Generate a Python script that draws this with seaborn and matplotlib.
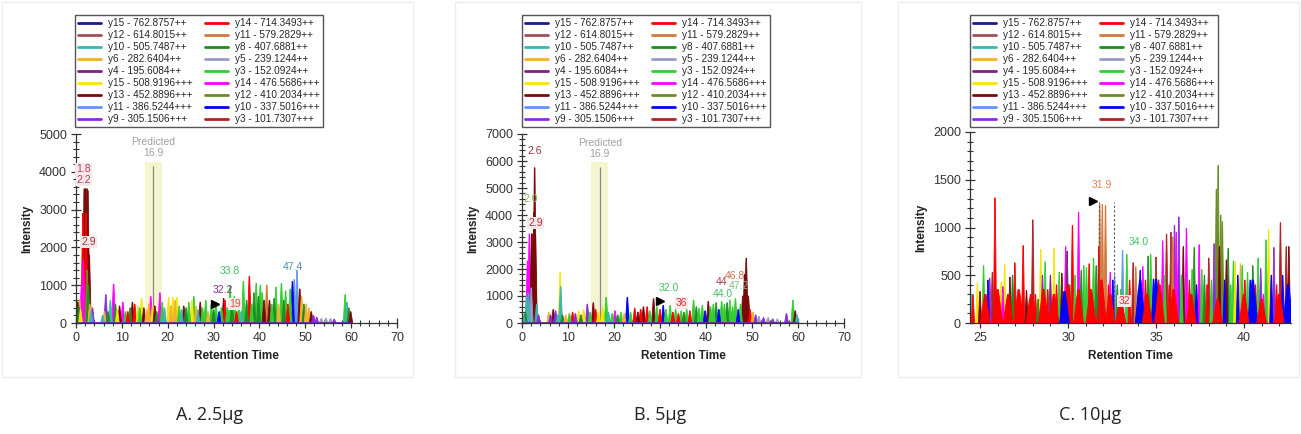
import matplotlib
matplotlib.use("Agg")
import matplotlib.pyplot as plt
import matplotlib.ticker as mticker
from matplotlib.lines import Line2D
from matplotlib.patches import Rectangle
import seaborn as sns

# ---------------------------------------------------------------------------
# Data
# ---------------------------------------------------------------------------

# legend order, column by column
ION_LABELS = [
    "y15 - 762.8757++", "y12 - 614.8015++", "y10 - 505.7487++",
    "y6 - 282.6404++", "y4 - 195.6084++", "y15 - 508.9196+++",
    "y13 - 452.8896+++", "y11 - 386.5244+++", "y9 - 305.1506+++",
    "y14 - 714.3493++", "y11 - 579.2829++", "y8 - 407.6881++",
    "y5 - 239.1244++", "y3 - 152.0924++", "y14 - 476.5686+++",
    "y12 - 410.2034+++", "y10 - 337.5016+++", "y3 - 101.7307+++",
]
ION_COLORS = [
    "#1c1c8c", "#a0505a", "#3cb4b4", "#f0b030", "#802080", "#f5e600",
    "#7a0a0a", "#6495ed", "#8a2be2", "#ff0000", "#d2783c", "#228b22",
    "#9a9ac8", "#32cd32", "#ff00ff", "#6b8e23", "#0000ff", "#b22222",
]

# (retention time, intensity, ion index)
PEAKS_A = [
    (0.2, 600, 2), (0.4, 550, 6), (0.6, 450, 11), (0.8, 620, 3), (1.0, 350, 5),
    (1.2, 1000, 14), (1.6, 1650, 14), (1.5, 2900, 9), (1.8, 3550, 6), (2.1, 3550, 6),
    (2.4, 3550, 6), (2.6, 3500, 6), (2.9, 1800, 6), (2.2, 2900, 9), (2.4, 1400, 15),
    (2.7, 1000, 11), (3.0, 500, 3), (3.3, 300, 2), (3.6, 400, 8),
    (5.8, 200, 2), (6.2, 300, 3), (6.5, 750, 8), (7.0, 300, 11), (7.5, 600, 2),
    (8.2, 1030, 14), (8.6, 500, 11), (9.0, 350, 5), (9.5, 450, 6), (10.2, 550, 14),
    (10.8, 300, 13), (11.3, 300, 9), (11.8, 400, 11), (12.3, 550, 6), (12.8, 500, 9),
    (13.5, 450, 5), (13.9, 400, 13), (14.3, 650, 5), (14.8, 400, 6), (15.4, 350, 3),
    (15.9, 500, 3), (16.3, 700, 14), (16.7, 450, 5), (17.2, 450, 6), (17.6, 300, 11),
    (18.3, 800, 14), (18.8, 550, 13), (19.3, 400, 2),
    (20.2, 680, 5), (20.7, 450, 3), (21.1, 680, 5), (21.6, 600, 3), (22.0, 680, 5),
    (22.5, 450, 13), (23.0, 350, 2), (23.5, 450, 6), (24.0, 400, 11), (24.6, 550, 13),
    (25.3, 600, 5), (25.7, 700, 13), (26.2, 450, 3), (26.6, 350, 2), (27.1, 550, 6),
    (27.6, 400, 13), (28.3, 600, 13), (28.8, 300, 3), (29.5, 500, 13), (30.0, 350, 11),
    (30.5, 550, 13), (31.2, 300, 16), (31.7, 400, 13), (32.2, 650, 6), (32.5, 600, 9),
    (33.0, 400, 13), (33.6, 970, 13), (34.0, 500, 11), (34.5, 700, 13), (35.0, 300, 9),
    (35.5, 450, 13), (36.0, 300, 2), (36.5, 1100, 13), (37.2, 600, 11), (37.8, 1230, 9),
    (38.3, 500, 13), (38.8, 800, 11), (39.3, 1050, 13), (39.8, 700, 11), (40.2, 1000, 13),
    (40.6, 800, 13), (41.0, 600, 6), (41.6, 1000, 10), (42.2, 600, 6), (42.7, 500, 13),
    (43.2, 650, 11), (43.6, 950, 13), (44.2, 500, 3), (44.8, 1050, 13), (45.3, 600, 11),
    (45.7, 850, 13), (46.2, 500, 9), (46.7, 900, 13), (47.2, 1100, 16), (47.6, 1150, 7),
    (48.2, 1400, 7), (48.8, 900, 6), (49.2, 700, 3), (49.7, 500, 11), (50.2, 500, 3),
    (50.8, 400, 3), (51.3, 300, 6), (51.8, 200, 8), (52.5, 150, 8), (53.5, 120, 12),
    (54.5, 130, 12), (55.5, 120, 12), (56.3, 100, 8), (58.7, 750, 13), (59.1, 550, 2),
    (59.5, 400, 11), (59.9, 300, 6),
]

PEAKS_B = [
    (0.3, 300, 2), (0.7, 400, 11), (1.0, 1000, 2), (1.4, 1100, 2), (1.2, 2300, 14),
    (1.6, 3300, 14), (2.0, 1300, 12), (2.1, 3300, 6), (2.4, 3300, 6), (2.6, 4100, 6),
    (2.75, 5750, 6), (2.9, 3300, 6), (3.2, 700, 2), (3.6, 300, 8),
    (5.8, 400, 3), (6.2, 300, 8), (6.8, 500, 6), (7.3, 450, 8), (7.8, 300, 2),
    (8.3, 1880, 5), (8.4, 1350, 2), (8.8, 300, 11), (9.5, 300, 3), (10.3, 350, 13),
    (11.0, 400, 9), (11.6, 350, 8), (12.3, 450, 5), (12.8, 300, 11), (13.4, 500, 5),
    (14.2, 700, 8), (14.8, 400, 13), (15.5, 750, 6), (16.0, 500, 9), (16.6, 400, 5),
    (17.5, 600, 5), (18.3, 950, 13), (18.8, 400, 2), (19.6, 350, 13),
    (20.2, 450, 14), (20.8, 300, 11), (21.5, 400, 13), (22.2, 350, 3), (22.9, 950, 16),
    (23.6, 400, 13), (24.5, 550, 9), (25.2, 400, 6), (25.8, 500, 9), (26.4, 600, 6),
    (27.2, 600, 9), (27.8, 450, 13), (28.6, 900, 6), (29.3, 600, 13), (30.0, 500, 9),
    (30.7, 650, 16), (31.3, 500, 13), (32.2, 650, 13), (32.8, 400, 9), (33.4, 500, 13),
    (34.0, 350, 9), (34.6, 450, 13), (35.2, 400, 11), (35.8, 500, 13), (36.5, 450, 9),
    (37.3, 850, 13), (37.9, 600, 11), (38.5, 550, 13), (39.2, 650, 13), (39.8, 450, 16),
    (40.5, 800, 6), (41.0, 600, 13), (41.6, 700, 13), (42.2, 750, 11), (42.8, 500, 16),
    (43.4, 800, 13), (44.0, 700, 13), (44.6, 750, 11), (45.2, 850, 13), (45.8, 600, 13),
    (46.4, 900, 13), (47.0, 500, 16), (47.5, 700, 13), (48.0, 1000, 6), (48.4, 1800, 6),
    (48.75, 2400, 6), (49.2, 1000, 6), (49.6, 500, 9), (50.2, 400, 3), (50.8, 300, 8),
    (51.5, 250, 12), (52.5, 200, 8), (53.5, 200, 12), (54.5, 150, 8), (55.5, 150, 12),
    (57.5, 350, 8), (58.9, 850, 13), (59.4, 450, 6), (59.8, 300, 2),
]

PEAKS_C = [
    (24.55, 300, 2), (24.6, 290, 9), (24.85, 420, 5), (25.0, 330, 6), (25.2, 600, 13),
    (25.35, 250, 9), (25.45, 450, 16), (25.55, 470, 8), (25.7, 530, 17), (25.85, 1310, 9),
    (26.05, 300, 9), (26.2, 430, 5), (26.3, 380, 14), (26.4, 610, 5), (26.55, 250, 9),
    (26.7, 480, 6), (26.85, 500, 11), (26.98, 630, 9), (27.15, 250, 13), (27.3, 240, 2),
    (27.45, 810, 9), (27.64, 340, 6), (27.8, 250, 13), (28.0, 1080, 17), (28.15, 300, 9),
    (28.3, 250, 11), (28.45, 770, 5), (28.55, 500, 8), (28.7, 640, 13), (28.85, 350, 9),
    (29.0, 500, 4), (29.2, 780, 5), (29.35, 400, 9), (29.5, 530, 13), (29.65, 520, 6),
    (29.8, 330, 16), (29.87, 800, 14), (29.95, 750, 4), (30.1, 400, 11), (30.25, 1020, 9),
    (30.4, 500, 13), (30.6, 1160, 14), (30.75, 550, 11), (30.9, 600, 13), (31.05, 580, 13),
    (31.2, 620, 9), (31.35, 300, 16), (31.45, 680, 13), (31.6, 600, 11), (31.75, 800, 9),
    (31.8, 1250, 10), (31.95, 1240, 10), (32.13, 1230, 10), (32.3, 400, 9), (32.4, 530, 14),
    (32.55, 450, 16), (32.65, 500, 7), (32.8, 400, 11), (33.0, 350, 13), (33.1, 760, 7),
    (33.34, 720, 13), (33.5, 450, 9), (33.7, 630, 17), (33.85, 590, 10), (34.0, 350, 16),
    (34.1, 550, 16), (34.25, 590, 14), (34.4, 450, 9), (34.55, 700, 11), (34.7, 720, 13),
    (34.85, 460, 16), (35.0, 690, 17), (35.15, 450, 9), (35.38, 860, 14), (35.5, 500, 13),
    (35.6, 930, 17), (35.75, 400, 9), (35.85, 950, 17), (35.95, 900, 10), (36.05, 1020, 8),
    (36.15, 950, 14), (36.3, 1110, 8), (36.45, 500, 13), (36.55, 800, 6), (36.73, 990, 14),
    (36.9, 450, 9), (37.05, 560, 13), (37.17, 790, 11), (37.3, 400, 16), (37.45, 820, 14),
    (37.6, 560, 13), (37.75, 500, 11), (37.9, 400, 9), (38.0, 680, 17), (38.15, 450, 13),
    (38.3, 830, 8), (38.43, 1400, 15), (38.53, 1650, 15), (38.6, 800, 6), (38.68, 1130, 15),
    (38.77, 1060, 15), (38.9, 450, 16), (39.0, 660, 6), (39.1, 780, 11), (39.25, 400, 13),
    (39.4, 650, 13), (39.5, 640, 5), (39.65, 500, 16), (39.8, 620, 3), (39.9, 600, 13),
    (40.05, 450, 9), (40.2, 530, 13), (40.35, 450, 16), (40.5, 600, 11), (40.65, 400, 9),
    (40.8, 680, 13), (40.95, 570, 8), (41.1, 300, 14), (41.25, 870, 13), (41.4, 980, 5),
    (41.55, 500, 16), (41.7, 790, 8), (41.85, 400, 9), (42.07, 1050, 17), (42.2, 500, 16),
    (42.4, 800, 17), (42.55, 800, 6),
]
# broad low background of panel C (red / blue traces)
BROAD_C = [
    (25.3, 300, 9), (26.0, 350, 9), (26.6, 300, 9), (27.2, 350, 9), (27.9, 300, 9),
    (28.6, 350, 9), (29.2, 300, 9), (30.0, 400, 9), (30.6, 350, 9), (31.3, 350, 9),
    (31.9, 450, 9), (32.4, 300, 9), (33.0, 250, 9), (34.5, 300, 9), (35.2, 400, 9),
    (36.0, 350, 9), (37.0, 300, 9), (38.5, 250, 9), (40.0, 300, 9), (41.0, 250, 9),
    (42.0, 300, 9), (29.8, 330, 16), (34.1, 450, 16), (35.0, 460, 16), (40.5, 450, 16),
    (42.5, 400, 16),
]

# peak apex labels: (rt, intensity, text, colour, boxed)
LABELS_A = [
    (1.6, 3950, "1.8", "#b04060", True), (1.75, 3650, "2.2", "#b04060", True),
    (2.7, 2020, "2.9", "#a03040", True), (33.6, 1250, "33.8", "#40c060", False),
    (32.0, 750, "32.2", "#803080", False), (34.6, 380, "19", "#c06040", True),
    (47.3, 1360, "47.4", "#5090b0", False),
]
LABELS_B = [
    (2.7, 6180, "2.6", "#a03040", False), (1.8, 4390, "2.0", "#80c060", False),
    (2.9, 3530, "2.9", "#a03040", True), (32.0, 1110, "32.0", "#40c060", False),
    (34.7, 550, "36", "#e03030", True), (43.4, 1350, "44", "#a04050", False),
    (46.3, 1570, "46.8", "#d07050", False), (47.2, 1170, "47.2", "#80c080", False),
    (43.7, 880, "44.0", "#40c060", False),
]
LABELS_C = [
    (31.9, 1390, "31.9", "#e08050", False), (34.0, 800, "34.0", "#40c060", False),
    (33.2, 175, "32", "#e03030", True),
]

PREDICTED_RT = 16.9
PREDICTED_WINDOW = (15.0, 18.8)
RUN_END = 60
MARKER_A = (30.3, 500)
MARKER_B = (30.0, 800)
MARKER_C = (31.4, 1280)
INTEGRATION_C = (31.74, 32.6)

CAPTIONS = ["A. 2.5μg", "B. 5μg", "C. 10μg"]


# ---------------------------------------------------------------------------
# Plotting
# ---------------------------------------------------------------------------

sns.set_theme(style="ticks")
plt.rcParams["font.family"] = ["Liberation Sans", "DejaVu Sans"]

W, H = 1301, 434
fig = plt.figure(figsize=(W / 100, H / 100), dpi=100)

# faint panel frames
for x0, x1 in [(2, 413), (455, 861), (898, 1299)]:
    fig.patches.append(Rectangle((x0 / W, 1 - 377 / H), (x1 - x0) / W, 377 / H - 0.005,
                                 transform=fig.transFigure, fill=False,
                                 edgecolor="#ececec", lw=1))


def make_axes(left_px, width_px, top_px):
    return fig.add_axes([left_px / W, 1 - 323 / H, width_px / W, (323 - top_px) / H])


def draw_peaks(ax, peaks, half_width):
    for rt, height, ion in sorted(peaks, key=lambda p: -p[1]):
        ax.fill([rt - half_width, rt - half_width * 0.15, rt + half_width * 0.15,
                 rt + half_width], [0, height, height, 0],
                color=ION_COLORS[ion], lw=0.6, zorder=2)


def draw_labels(ax, labels):
    for rt, y, txt, col, boxed in labels:
        bbox = dict(boxstyle="square,pad=0.1", fc="#f6e8e8", ec="none") if boxed else None
        ax.text(rt, y, txt, color=col, fontsize=7.5, ha="center", va="bottom",
                bbox=bbox, zorder=5)


def style_axes(ax, xmajor, xminor, ymajor, yminor):
    sns.despine(ax=ax)
    for s in ("left", "bottom"):
        ax.spines[s].set_color("#333333")
        ax.spines[s].set_linewidth(0.9)
    ax.xaxis.set_major_locator(mticker.MultipleLocator(xmajor))
    ax.xaxis.set_minor_locator(mticker.MultipleLocator(xminor))
    ax.yaxis.set_major_locator(mticker.MultipleLocator(ymajor))
    ax.yaxis.set_minor_locator(mticker.MultipleLocator(yminor))
    ax.tick_params(which="major", direction="inout", length=7, width=0.9,
                   color="#333333", labelsize=9, labelcolor="#333333", pad=3)
    ax.tick_params(which="minor", direction="inout", length=4, width=0.8, color="#333333")
    ax.set_xlabel("Retention Time", fontsize=8.5, fontweight="bold", color="#222222")
    ax.set_ylabel("Intensity", fontsize=8.5, fontweight="bold", color="#222222")
    ax.set_facecolor("none")


def predicted_band(ax, top):
    ax.fill_between(PREDICTED_WINDOW, 0, top, color="#f5f5d0", zorder=1, lw=0)
    ax.vlines(PREDICTED_RT, 0, top * 0.97, color="#888888", lw=0.9, zorder=1.5)
    ax.text(PREDICTED_RT, top * 1.02, "16.9", color="#a0a0a0", fontsize=7.5,
            ha="center", va="bottom")
    ax.text(PREDICTED_RT, top * 1.09, "Predicted", color="#a0a0a0", fontsize=7.5,
            ha="center", va="bottom")


handles = [Line2D([0], [0], color=c, lw=2) for c in ION_COLORS]


def add_legend(left_px):
    fig.legend(handles, ION_LABELS, ncol=2, loc="lower left",
               bbox_to_anchor=(left_px / W, 1 - 127 / H), bbox_transform=fig.transFigure,
               fontsize=7.2, frameon=True, fancybox=False, edgecolor="#555555",
               framealpha=1, handlelength=2.3, handletextpad=0.7, columnspacing=1.2,
               labelspacing=0.2, borderpad=0.3, borderaxespad=0)


# --- panel A ---
ax = make_axes(76, 321, 134)
ax.set_xlim(0, 70)
ax.set_ylim(0, 5000)
predicted_band(ax, 4270)
draw_peaks(ax, PEAKS_A, 0.42)
ax.hlines(0, 0, RUN_END, color="#6a2a9a", lw=2, zorder=3)
draw_labels(ax, LABELS_A)
ax.plot(*MARKER_A, marker=">", color="black", ms=6, zorder=6)
style_axes(ax, 10, 2, 1000, 200)
add_legend(75)

# --- panel B ---
ax = make_axes(522, 322, 134)
ax.set_xlim(0, 70)
ax.set_ylim(0, 7000)
predicted_band(ax, 5950)
draw_peaks(ax, PEAKS_B, 0.42)
ax.hlines(0, 0, RUN_END, color="#6a2a9a", lw=2, zorder=3)
draw_labels(ax, LABELS_B)
ax.plot(*MARKER_B, marker=">", color="black", ms=6, zorder=6)
style_axes(ax, 10, 2, 1000, 200)
add_legend(522)

# --- panel C ---
ax = make_axes(970, 321, 132)
ax.set_xlim(24.43, 42.67)
ax.set_ylim(0, 2000)
draw_peaks(ax, PEAKS_C, 0.09)
draw_peaks(ax, BROAD_C, 0.28)
ax.vlines(INTEGRATION_C, 0, 1270, color="#555555", lw=0.8, ls=(0, (2, 2)), zorder=4)
draw_labels(ax, LABELS_C)
ax.plot(*MARKER_C, marker=">", color="black", ms=6, zorder=6)
style_axes(ax, 5, 1, 500, 100)
add_legend(970)

# captions
for cx, txt in zip([210, 660, 1090], CAPTIONS):
    fig.text(cx / W, 1 - 415 / H, txt, ha="center", va="center", fontsize=13,
             family=["Open Sans", "DejaVu Sans"], color="#222222")

fig.savefig("out.png", dpi=100)
